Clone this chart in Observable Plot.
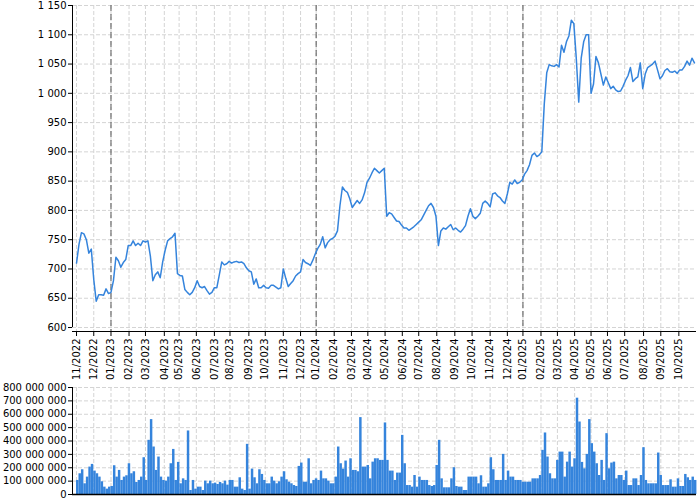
<!DOCTYPE html>
<html><head><meta charset="utf-8">
<script src="https://cdn.jsdelivr.net/npm/d3@7"></script>
<script src="https://cdn.jsdelivr.net/npm/@observablehq/plot@0.6"></script>
<style>body{margin:0;background:#fff} svg{display:block}</style>
</head><body><div id="chart"></div>
<script>
// Exchange holidays (weekdays with no trading)
const holidays = ["2022-11-17","2022-12-26","2023-04-07","2023-04-10","2023-05-01","2023-05-08","2023-07-05","2023-07-06","2023-09-28","2023-11-17","2023-12-25","2023-12-26","2024-01-01","2024-03-29","2024-04-01","2024-05-01","2024-05-08","2024-07-05","2024-10-28","2024-12-24","2024-12-25","2024-12-26","2025-01-01","2025-04-18","2025-04-21","2025-05-01","2025-05-08","2025-10-28"];
const startDate = "2022-11-01", endDate = "2025-10-31";
// one sample every 3 trading days
const step = 3;
// closing price (sampled every 3 trading days)
const price = [710,742,762,760,750,727,734,682,645,656,656,655,666,658,660,680,720,714,703,711,
716,740,740,748,740,744,740,748,746,748,722,680,690,695,685,712,732,748,752,755,
761,692,689,688,665,660,656,660,668,680,670,668,670,663,657,660,668,668,690,712,
707,709,713,710,712,713,711,712,709,702,697,695,674,683,668,668,672,668,667,672,
672,669,666,668,700,684,670,675,680,688,692,695,716,711,709,706,715,726,735,742,
755,736,745,750,752,756,765,808,840,834,831,820,805,811,817,812,818,830,848,855,
864,872,868,864,868,872,790,796,794,788,782,781,775,770,770,766,769,772,776,780,
784,792,800,808,812,805,790,740,765,770,768,772,776,767,770,766,763,768,774,790,
803,790,786,790,795,812,816,812,806,828,830,825,822,816,812,828,848,845,852,846,
848,852,862,868,878,894,898,892,895,900,982,1035,1049,1047,1046,1049,1045,1082,1070,1088,
1098,1125,1119,1060,985,1060,1088,1100,1100,1000,1016,1063,1052,1033,1014,1028,1018,1008,1012,1006,
1003,1004,1012,1022,1030,1044,1020,1025,1028,1052,1008,1033,1044,1047,1050,1055,1040,1025,1030,1039,
1042,1037,1036,1038,1034,1040,1040,1046,1055,1048,1060,1052];
// traded volume in millions (sampled every 3 trading days)
const volumeM = [105,155,185,80,130,205,225,175,155,130,95,55,40,55,60,215,130,180,105,130,
140,230,155,170,90,105,130,275,105,405,560,355,180,280,130,105,100,130,230,337,
105,240,80,117,105,475,30,105,40,55,55,30,100,80,100,80,85,75,90,80,
100,70,105,105,55,55,125,40,30,375,40,190,125,80,185,150,105,80,80,130,
100,80,95,130,170,110,92,80,67,60,210,235,92,92,267,80,105,117,105,175,
117,117,100,80,80,130,355,230,190,250,130,267,180,180,170,575,205,205,217,117,
242,267,267,255,255,535,255,175,175,105,160,160,442,230,67,67,55,142,55,130,
105,105,105,67,60,67,217,405,117,50,50,50,117,200,60,55,55,30,30,130,
130,130,130,80,140,55,55,80,275,185,105,105,105,300,105,175,130,130,105,105,
105,92,92,92,92,117,117,117,142,330,460,280,155,117,117,255,317,317,130,242,
317,205,267,720,542,240,192,300,560,380,317,230,142,255,105,455,192,235,242,117,
142,142,105,175,67,67,117,117,67,142,350,105,80,80,80,80,310,142,67,67,
67,110,55,55,117,60,60,150,125,105,130,105];
const priceTicks = [600,650,700,750,800,850,900,950,1000,1050,1100,1150];
const volumeTicks = [0,1e8,2e8,3e8,4e8,5e8,6e8,7e8,8e8];

// trading-day calendar
const days = [];
for (let t = Date.parse(startDate + "T00:00:00Z"); t <= Date.parse(endDate + "T00:00:00Z"); t += 864e5) {
  const d = new Date(t), wd = d.getUTCDay(), s = d.toISOString().slice(0, 10);
  if (wd === 0 || wd === 6 || holidays.includes(s)) continue;
  days.push(s);
}
const N = days.length;
const monthIdx = [], yearIdx = [], labelMap = new Map();
days.forEach((s, i) => {
  if (i === 0 || s.slice(5, 7) !== days[i - 1].slice(5, 7)) {
    monthIdx.push(i);
    labelMap.set(i, s.slice(5, 7) + "/" + s.slice(0, 4));
  }
  if (i > 0 && s.slice(0, 4) !== days[i - 1].slice(0, 4)) yearIdx.push(i);
});
const priceData = price.map((v, k) => ({i: k * step, v}));
const volData = volumeM.map((v, k) => ({i: k * step, v: v * 1e6}));

const fmt = v => d3.format(",")(v).replace(/,/g, " ");
const x0 = -4.9, x1 = N - 0.5;
const yLow = 593.2;
const chartStyle = {fontSize: "10px", fontFamily: "DejaVu Sans", color: "black", background: "white", overflow: "visible"};
const grid = {stroke: "#d4d4d4", strokeDasharray: "4,2"};
const blue = "#3584dc";

const priceChart = Plot.plot({
  width: 700, height: 381, marginTop: 5, marginLeft: 72, marginRight: 4, marginBottom: 50,
  style: chartStyle,
  x: {domain: [x0, x1], ticks: monthIdx, tickFormat: i => labelMap.get(i), tickRotate: -90, tickSize: 5, tickPadding: 2, label: null},
  y: {domain: [yLow, 1150], ticks: priceTicks, tickFormat: fmt, tickSize: 4, tickPadding: 2, label: null},
  marks: [
    Plot.ruleY(priceTicks, grid),
    Plot.ruleX(monthIdx, grid),
    Plot.ruleX(yearIdx, {stroke: "#555", strokeDasharray: "6,3"}),
    Plot.line(priceData, {x: "i", y: "v", stroke: blue, strokeWidth: 1.5}),
    Plot.ruleX([x0], {y1: 600, y2: 1150, stroke: "black"}),
    Plot.ruleY([yLow], {stroke: "black"})
  ]
});

const volumeChart = Plot.plot({
  width: 700, height: 117, marginTop: 6, marginLeft: 72, marginRight: 4, marginBottom: 4,
  style: chartStyle,
  x: {domain: [x0, x1], axis: null},
  y: {domain: [0, 8e8], ticks: volumeTicks, tickFormat: fmt, tickSize: 4, tickPadding: 2, label: null},
  marks: [
    Plot.ruleY(volumeTicks, grid),
    Plot.ruleX(monthIdx, grid),
    Plot.rectY(volData, {x1: "i", x2: d => d.i + step, y: "v", fill: blue}),
    Plot.ruleX([x0], {y1: 0, y2: 8e8, stroke: "black"}),
    Plot.ruleY([0], {stroke: "black", strokeWidth: 1.5})
  ]
});

document.getElementById("chart").append(priceChart, volumeChart);
</script></body></html>
